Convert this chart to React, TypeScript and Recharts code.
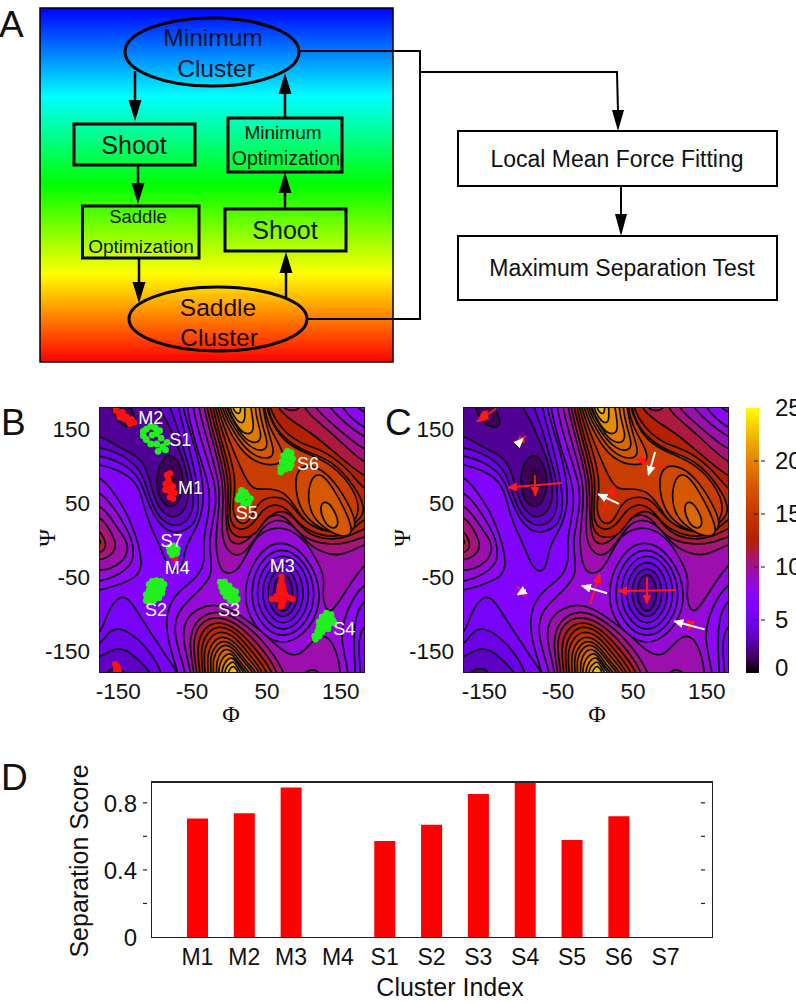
import React from 'react';
import {
  Bar, BarChart, Curve, Scatter, ScatterChart, XAxis, YAxis,
} from 'recharts';

type Pt = [number, number];
type Contour = { level: number; pts: Pt[] };

const FONT = '"Liberation Sans", Arial, sans-serif';

// panel D
const clusterNames = ['M1', 'M2', 'M3', 'M4', 'S1', 'S2', 'S3', 'S4', 'S5', 'S6', 'S7'];
const separationScores = [0.706, 0.738, 0.891, 0, 0.573, 0.669, 0.853, 0.93, 0.579, 0.72, 0];
const scoreTicks = [0, 0.2, 0.4, 0.6, 0.8];

// panels B and C axis ticks
const angleTicks = [-150, -50, 50, 150];
const colorbarTicks = [0, 5, 10, 15, 20, 25];

// free energy contours, (phi, psi) in degrees.
// levels above the plateau, painted lowest first
const raisedContours: Contour[] = [
  { level: 7, pts: [[-200,88],[-180,88],[-160,65],[-142,36],[-130,6],[-124,-18],[-122,-36],[-130,-52],[-153,-60],[-180,-69],[-200,-69]] },
  { level: 8, pts: [[-200,67],[-180,67],[-162,47],[-146,22],[-135,0],[-133,-18],[-135,-32],[-153,-48],[-180,-57],[-200,-57]] },
  { level: 9, pts: [[-200,49],[-180,49],[-166,33],[-153,13],[-143,0],[-140,-14],[-148,-30],[-166,-40],[-180,-41],[-200,-41]] },
  { level: 10, pts: [[-200,33],[-180,33],[-169,20],[-158,0],[-157,-12],[-166,-23],[-180,-28],[-200,-28]] },
  { level: 11, pts: [[-200,13],[-180,13],[-175,6],[-170,-5],[-173,-14],[-180,-18],[-200,-18]] },
  { level: 12, pts: [[-200,4],[-180,4],[-177,-3],[-180,-9],[-200,-9]] },
  { level: 7, pts: [[-62,200],[-62,180],[-47,121],[-31,76],[-29,45],[-40,0],[-36,-27],[-45,-50],[-72,-68],[-90,-95],[-88,-136],[-72,-180],[-72,-200],[167,-200],[167,-180],[163,-108],[180,-77],[200,-77],[200,171],[181,171],[167,180],[167,200]] },
  { level: 8, pts: [[-54,200],[-54,180],[-38,121],[-22,76],[-21,45],[-32,0],[-28,-27],[-27,-50],[-49,-73],[-76,-97],[-79,-131],[-62,-180],[-62,-200],[158,-200],[158,-180],[147,-135],[151,-108],[163,-79],[181,-57],[200,-57],[200,148],[181,148],[145,180],[145,200]] },
  { level: 9, pts: [[-46,200],[-46,180],[-31,126],[-17,79],[-17,45],[-23,0],[-19,-32],[-11,-47],[7,-43],[17,-25],[30,0],[41,11],[64,19],[86,10],[100,-3],[111,-21],[127,-50],[121,-77],[131,-105],[149,-77],[181,-27],[200,-27],[200,135],[181,135],[127,180],[127,200]] },
  { level: 9, pts: [[-55,-200],[-55,-180],[-67,-136],[-65,-109],[-45,-91],[-18,-86],[9,-100],[45,-127],[68,-151],[91,-160],[109,-135],[127,-126],[142,-149],[147,-180],[147,-200]] },
  { level: 10, pts: [[-39,200],[-39,180],[-24,126],[-12,79],[-12,45],[-15,0],[-2,-20],[14,-22],[30,0],[45,22],[64,29],[84,20],[102,-5],[122,-17],[145,-22],[167,-12],[181,-5],[200,-5],[200,119],[180,119],[136,157],[109,180],[109,200]] },
  { level: 10, pts: [[-51,-200],[-51,-180],[-59,-140],[-51,-109],[-24,-94],[5,-104],[41,-133],[73,-180],[73,-200]] },
  { level: 11, pts: [[-35,200],[-35,180],[-20,126],[-8,79],[-9,45],[-7,10],[-2,-3],[9,-7],[25,2],[41,25],[59,37],[77,28],[95,2],[131,-7],[158,-4],[181,6],[200,6],[200,101],[180,101],[136,144],[109,166],[96,180],[96,200]] },
  { level: 11, pts: [[-47,-200],[-47,-180],[-54,-142],[-46,-113],[-22,-102],[5,-111],[36,-140],[64,-180],[64,-200]] },
  { level: 12, pts: [[-31,200],[-31,180],[-15,126],[-4,79],[-6,45],[-6,22],[0,6],[18,2],[34,9],[45,29],[66,42],[82,33],[100,9],[127,0],[158,3],[181,18],[200,18],[200,83],[180,83],[136,121],[109,144],[82,160],[59,180],[59,200]] },
  { level: 12, pts: [[-43,-200],[-43,-180],[-48,-145],[-40,-120],[-20,-109],[5,-118],[32,-147],[57,-180],[57,-200]] },
  { level: 13, pts: [[-27,200],[-27,180],[-12,126],[0,85],[-3,45],[-3,24],[9,12],[27,18],[41,42],[59,50],[77,41],[91,20],[118,6],[145,4],[163,13],[180,31],[200,31],[200,65],[180,65],[163,90],[127,121],[91,130],[64,153],[50,180],[50,200]] },
  { level: 13, pts: [[-39,-200],[-39,-180],[-43,-149],[-35,-126],[-18,-115],[5,-124],[27,-151],[50,-180],[50,-200]] },
  { level: 14, pts: [[-24,200],[-24,180],[-6,126],[5,85],[3,58],[0,40],[9,20],[23,24],[30,40],[41,57],[64,59],[79,51],[95,27],[122,11],[149,11],[176,29],[180,45],[167,72],[136,108],[100,119],[73,135],[55,157],[48,180],[48,200]] },
  { level: 14, pts: [[-36,-200],[-36,-180],[-39,-151],[-30,-131],[-15,-122],[5,-131],[24,-156],[44,-180],[44,-200]] },
  { level: 15, pts: [[-21,200],[-21,180],[-2,130],[14,92],[27,67],[45,70],[70,67],[86,45],[100,22],[127,12],[158,15],[174,36],[167,67],[136,103],[100,117],[70,133],[55,157],[46,180],[46,200]] },
  { level: 15, pts: [[-32,-200],[-32,-180],[-34,-156],[-26,-137],[-13,-129],[5,-138],[21,-160],[40,-180],[40,-200]] },
  { level: 16, pts: [[-18,200],[-18,180],[0,139],[23,108],[55,99],[73,108],[64,130],[50,153],[43,180],[43,200]] },
  { level: 16, pts: [[86,97],[109,103],[136,85],[163,40],[170,15],[149,6],[118,15],[95,36],[86,63]] },
  { level: 16, pts: [[-28,-200],[-28,-180],[-30,-158],[-22,-142],[-11,-135],[5,-144],[18,-164],[35,-180],[35,-200]] },
  { level: 17, pts: [[-15,200],[-15,180],[3,144],[23,117],[48,108],[59,117],[50,142],[41,180],[41,200]] },
  { level: 17, pts: [[102,63],[109,88],[122,90],[138,69],[158,31],[165,6],[145,4],[122,18],[106,36]] },
  { level: 17, pts: [[-25,-200],[-25,-180],[-26,-160],[-19,-147],[-9,-140],[5,-149],[16,-166],[31,-180],[31,-200]] },
  { level: 18, pts: [[-12,200],[-12,180],[5,148],[23,126],[41,119],[50,128],[42,151],[36,180],[36,200]] },
  { level: 18, pts: [[118,47],[127,54],[138,42],[146,20],[136,14],[124,24]] },
  { level: 18, pts: [[-21,-200],[-21,-180],[-21,-164],[-15,-151],[-6,-146],[5,-155],[14,-170],[26,-180],[26,-200]] },
  { level: 19, pts: [[-9,200],[-9,180],[5,155],[18,135],[34,130],[41,139],[34,162],[31,180],[31,200]] },
  { level: 19, pts: [[-18,-200],[-18,-180],[-17,-167],[-11,-157],[-3,-152],[5,-160],[12,-172],[22,-180],[22,-200]] },
  { level: 20, pts: [[-7,200],[-7,180],[3,160],[14,144],[27,143],[30,155],[25,180],[25,200]] },
  { level: 20, pts: [[-14,-200],[-14,-180],[-12,-170],[-7,-162],[0,-158],[6,-165],[11,-174],[18,-180],[18,-200]] },
  { level: 21, pts: [[-4,200],[-4,180],[4,164],[13,157],[18,162],[17,180],[17,200]] },
  { level: 21, pts: [[-10,-200],[-10,-180],[-8,-172],[-3,-167],[2,-164],[6,-170],[9,-176],[13,-180],[13,-200]] },
  { level: 22, pts: [[0,200],[0,180],[5,172],[11,170],[12,180],[12,200]] },
  { level: 22, pts: [[-6,-200],[-6,-180],[-2,-173],[2,-170],[6,-175],[9,-180],[9,-200]] },
];

// levels below the plateau and the holes in the ridges, painted outermost first
const sunkenContours: Contour[] = [
  { level: 6, pts: [[-200,103],[-180,103],[-153,94],[-135,83],[-124,67],[-117,36],[-106,9],[-97,-9],[-88,-34],[-76,-45],[-67,-36],[-64,-14],[-58,0],[-45,22],[-38,49],[-40,85],[-49,121],[-60,157],[-67,180],[-67,200],[-200,200]] },
  { level: 5, pts: [[-200,115],[-180,115],[-153,106],[-135,94],[-124,81],[-115,54],[-103,27],[-88,12],[-72,9],[-51,20],[-45,40],[-46,72],[-56,117],[-67,157],[-73,180],[-73,200],[-200,200]] },
  { level: 4, pts: [[-200,126],[-180,126],[-157,119],[-135,106],[-121,90],[-112,58],[-101,33],[-85,20],[-72,19],[-56,29],[-51,54],[-54,85],[-65,121],[-75,157],[-85,180],[-85,200],[-200,200]] },
  { level: 3, pts: [[-200,142],[-180,142],[-157,128],[-135,117],[-119,106],[-110,76],[-103,49],[-88,31],[-74,31],[-62,42],[-57,69],[-64,106],[-79,139],[-88,162],[-101,180],[-101,200],[-200,200]] },
  { level: 2, pts: [[-164,200],[-164,180],[-157,164],[-144,152],[-131,153],[-129,164],[-139,180],[-139,200]] },
  { level: 2, pts: [[-84,120],[-70,103],[-65,79],[-70,52],[-84,42],[-98,54],[-103,79],[-99,103]] },
  { level: 6, pts: [[-200,-131],[-178,-131],[-169,-97],[-153,-75],[-139,-79],[-124,-104],[-106,-131],[-83,-167],[-72,-180],[-72,-200],[-200,-200]] },
  { level: 5, pts: [[-200,-145],[-180,-145],[-166,-122],[-153,-119],[-135,-127],[-112,-149],[-94,-180],[-94,-200],[-200,-200]] },
  { level: 4, pts: [[-200,-160],[-180,-160],[-162,-147],[-144,-147],[-126,-163],[-108,-180],[-108,-200],[-200,-200]] },
  { level: 3, pts: [[-173,-200],[-173,-180],[-157,-171],[-142,-180],[-142,-200]] },
  { level: 6, pts: [[200,-113],[180,-113],[170,-131],[174,-180],[174,-200],[200,-200]] },
  { level: 11, pts: [[66,200],[66,180],[82,173],[95,180],[95,200]] },
  { level: 9, pts: [[95,-200],[95,-180],[109,-174],[121,-180],[121,-200]] },
  { level: 8, pts: [[65,4],[104,-22],[123,-72],[110,-118],[69,-148],[28,-118],[13,-74],[30,-22]] },
  { level: 7, pts: [[67,-7],[100,-28],[115,-72],[103,-112],[69,-137],[35,-112],[23,-72],[36,-28]] },
  { level: 6, pts: [[69,-16],[96,-34],[107,-72],[97,-106],[69,-128],[41,-106],[31,-72],[42,-34]] },
  { level: 5, pts: [[69,-26],[90,-40],[99,-72],[91,-100],[69,-118],[47,-100],[39,-72],[48,-40]] },
  { level: 4, pts: [[69,-36],[84,-46],[91,-72],[85,-94],[69,-108],[53,-94],[47,-72],[53,-46]] },
  { level: 3, pts: [[69,-45],[79,-52],[83,-72],[79,-90],[69,-99],[59,-90],[55,-72],[59,-52]] },
];

// the black core of M1 has no line around it
const coreShades: Contour[] = [
  { level: 1.2, pts: [[-84,106],[-74,94],[-72,72],[-78,56],[-88,56],[-94,72],[-93,92]] },
  { level: 0.4, pts: [[-84,92],[-78,84],[-78,68],[-84,62],[-90,70],[-89,84]] },
];

// clusters of panel B
const minimumPoints: Pt[] = [
  [-157,175],[-153,172],[-149,169],[-152,166],[-146,164],[-143,167],[-140,161],[-136,163],[-133,159],[-138,157],[-148,173],[-157,178],
  [-88,88],[-84,90],[-86,82],[-90,76],[-84,76],[-80,72],[-90,68],[-84,66],[-78,64],[-84,58],[-80,56],[-87,72],
  [67,-50],[67,-56],[65,-62],[69,-62],[64,-68],[70,-68],[60,-76],[66,-74],[72,-74],[54,-80],[60,-80],[78,-78],[82,-80],[66,-82],[70,-82],[68,-88],[66,-90],
  [-79,-24],[-77,-26],
  [-156,-170],[-154,-174],[-157,-176],[-153,-179],[-156,-180],[-158,-168],[-156,180],
];
const saddlePoints: Pt[] = [
  [-120,141],[-116,150],[-110,154],[-104,152],[-116,136],[-108,142],[-102,144],[-96,138],[-110,130],[-102,130],[-94,126],[-90,122],[-100,120],[-88,132],[-120,147],[-98,148],
  [75,120],[80,118],[70,114],[76,112],[82,110],[68,106],[74,104],[80,102],[66,98],[72,96],[78,98],[66,92],
  [13,67],[10,60],[8,55],[14,54],[20,60],[25,56],[22,50],[16,48],[12,62],[18,64],
  [-85,-10],[-80,-8],[-84,-16],[-78,-14],[-74,-12],[-81,-20],[-75,-18],
  [-108,-56],[-102,-55],[-96,-56],[-92,-60],[-112,-60],[-106,-62],[-100,-62],[-94,-66],[-112,-68],[-106,-70],[-100,-70],[-95,-72],[-116,-74],[-110,-76],[-104,-76],[-99,-78],[-116,-82],[-110,-84],[-106,-82],
  [-16,-57],[-10,-57],[-14,-64],[-8,-63],[-4,-62],[-12,-70],[-6,-70],[0,-68],[5,-70],[-8,-76],[-2,-76],[4,-76],[7,-80],[-2,-82],[4,-84],
  [128,-99],[134,-101],[122,-104],[128,-106],[136,-108],[118,-111],[124,-112],[131,-114],[138,-112],[118,-118],[124,-118],[130,-120],[116,-124],[122,-124],[112,-130],[118,-130],[113,-134],
];
const clusterLabels: { name: string; at: Pt }[] = [
  { name: 'M2', at: [-110,165] }, { name: 'S1', at: [-70,135] }, { name: 'M1', at: [-56,70] },
  { name: 'S6', at: [103,103] }, { name: 'S5', at: [20,36] }, { name: 'S7', at: [-82,-2] },
  { name: 'M4', at: [-74,-38] }, { name: 'M3', at: [68,-35] }, { name: 'S2', at: [-103,-95] },
  { name: 'S3', at: [-4,-95] }, { name: 'S4', at: [152,-120] },
];

// force arrows of panel C, tail then head
const redArrows: [Pt, Pt][] = [
  [[-135,178],[-161,160]], [[-153,175],[-146,163]], [[-95,141],[-108,129]],
  [[-46,77],[-119,71]], [[-83,88],[-82,60]], [[94,98],[55,110]],
  [[9,38],[25,73]], [[-107,-63],[-95,-76]], [[-8,-87],[5,-46]],
  [[108,-68],[30,-69]], [[69,-51],[69,-86]], [[128,-113],[126,-121]],
];
const whiteArrows: [Pt, Pt][] = [
  [[-103,133],[-99,137]], [[80,119],[71,88]], [[31,49],[3,62]],
  [[-95,-67],[-106,-74]], [[15,-72],[-19,-62]], [[147,-121],[106,-110]],
];

// gnuplot palette 7,5,15 on 0..25
function energyColor(level: number): string {
  const t = Math.max(0, Math.min(1, level / 25));
  const r = Math.sqrt(t);
  const g = t * t * t;
  const b = Math.max(0, Math.sin(2 * Math.PI * t));
  return `rgb(${Math.round(r * 255)},${Math.round(g * 255)},${Math.round(b * 255)})`;
}

const noMark = () => <g />;
const toRows = (pts: Pt[]) => pts.map(([x, y]) => ({ x, y }));

function contourSeries(list: Contour[], fillOffset: number, stroked: boolean, prefix: string) {
  return list.map((c, i) => {
    const fill = energyColor(c.level + fillOffset);
    return (
      <Scatter
        key={prefix + i}
        data={toRows(c.pts)}
        isAnimationActive={false}
        shape={noMark}
        line={(p: any) => (
          <Curve
            points={p.points}
            type="basisClosed"
            fill={fill}
            stroke={stroked ? '#0c0c0c' : 'none'}
            strokeWidth={1.7}
          />
        )}
      />
    );
  });
}

function arrowSeries(list: [Pt, Pt][], color: string, marker: string) {
  return list.map((a, i) => (
    <Scatter
      key={marker + i}
      data={toRows(a)}
      isAnimationActive={false}
      shape={noMark}
      line={{ stroke: color, strokeWidth: 2, markerEnd: `url(#${marker})` }}
    />
  ));
}

function EnergyMap({ left, labelShift, children }: { left: number; labelShift: number; children?: React.ReactNode }) {
  const size = 266;
  const top = 407;
  return (
    <div style={{ position: 'absolute', left: 0, top: 0, pointerEvents: 'none' }}>
      <ScatterChart
        width={796}
        height={1004}
        margin={{ left: left - 60, top, right: 796 - left - size, bottom: 1004 - top - size - 40 }}
      >
        <XAxis
          type="number"
          dataKey="x"
          domain={[-180, 180]}
          allowDataOverflow
          ticks={angleTicks}
          height={40}
          axisLine={false}
          tickLine={false}
          tick={(p: any) => (
            <text x={p.x + (p.payload.value < 0 ? -3 : -2) + labelShift} y={p.y + 18} textAnchor="middle" fontFamily={FONT} fontSize={22.5} fill="#111">
              {p.payload.value}
            </text>
          )}
        />
        <YAxis
          type="number"
          dataKey="y"
          domain={[-180, 180]}
          allowDataOverflow
          ticks={angleTicks}
          width={60}
          axisLine={false}
          tickLine={false}
          tick={(p: any) => (
            <text x={p.x - 1} y={p.y + 8} textAnchor="end" fontFamily={FONT} fontSize={22.5} fill="#111">
              {p.payload.value}
            </text>
          )}
        />
        <Scatter
          data={toRows([[-220,220],[220,220],[220,-220],[-220,-220]])}
          isAnimationActive={false}
          shape={noMark}
          line={(p: any) => <Curve points={p.points} type="linearClosed" fill={energyColor(6.5)} stroke="none" />}
        />
        {contourSeries(raisedContours, 0.5, true, 'up')}
        {contourSeries(sunkenContours, -0.5, true, 'down')}
        {contourSeries(coreShades, 0, false, 'core')}
        {children}
      </ScatterChart>
      <div style={{ position: 'absolute', left, top, width: size - 2, height: size - 2, border: '1px solid #1a1a1a' }} />
    </div>
  );
}

function FlowDiagram() {
  const arrow = (x: number, y1: number, y2: number, key: string) => {
    const dir = y2 > y1 ? 1 : -1;
    return (
      <g key={key}>
        <line x1={x} y1={y1} x2={x} y2={y2 - dir * 20} stroke="#000" strokeWidth={2.5} />
        <polygon points={`${x - 6.5},${y2 - dir * 21} ${x + 6.5},${y2 - dir * 21} ${x},${y2}`} fill="#000" />
      </g>
    );
  };
  const box = (x: number, y: number, w: number, h: number) => (
    <rect x={x} y={y} width={w} height={h} fill="none" stroke="#000" strokeWidth={3} />
  );
  const label = (s: string, x: number, y: number, size: number, fill = '#06122a') => (
    <text x={x} y={y} textAnchor="middle" fontFamily={FONT} fontSize={size} fill={fill}>{s}</text>
  );
  return (
    <svg width={796} height={1004} style={{ position: 'absolute', left: 0, top: 0 }}>
      <defs>
        <linearGradient id="rainbow" x1="0" y1="0" x2="0" y2="1">
          <stop offset="0" stopColor="#0000ff" />
          <stop offset="0.25" stopColor="#00ffff" />
          <stop offset="0.5" stopColor="#00ff00" />
          <stop offset="0.75" stopColor="#ffff00" />
          <stop offset="1" stopColor="#ff0000" />
        </linearGradient>
        <linearGradient id="colorbarFill" x1="0" y1="1" x2="0" y2="0">
          {[0, 0.05, 0.1, 0.15, 0.2, 0.25, 0.3, 0.35, 0.4, 0.45, 0.5, 0.55, 0.6, 0.65, 0.7, 0.75, 0.8, 0.85, 0.9, 0.95, 1].map((t) => (
            <stop key={t} offset={t} stopColor={energyColor(t * 25)} />
          ))}
        </linearGradient>
        <marker id="headRed" markerUnits="userSpaceOnUse" markerWidth="11" markerHeight="9" refX="9" refY="4.5" orient="auto">
          <path d="M0,0 L10,4.5 L0,9 Z" fill="#ff1a1a" />
        </marker>
        <marker id="headWhite" markerUnits="userSpaceOnUse" markerWidth="11" markerHeight="9" refX="9" refY="4.5" orient="auto">
          <path d="M0,0 L10,4.5 L0,9 Z" fill="#ffffff" />
        </marker>
      </defs>

      <rect x={40} y={8} width={353} height={354} fill="url(#rainbow)" stroke="#000" strokeWidth={1.5} />

      <ellipse cx={212} cy={52} rx={87} ry={34} fill="none" stroke="#000" strokeWidth={3} />
      <ellipse cx={218} cy={319} rx={89} ry={32} fill="none" stroke="#000" strokeWidth={3} />
      {box(74, 124, 121, 41)}
      {box(82.5, 206, 116.5, 52)}
      {box(228, 118, 114, 54)}
      {box(225, 209, 121, 42)}

      {arrow(135, 71, 121, 'a1')}
      {arrow(138, 166, 204, 'a2')}
      {arrow(139, 259, 303, 'a3')}
      {arrow(286, 297, 252, 'a4')}
      {arrow(285, 208, 172, 'a5')}
      {arrow(285, 117, 73, 'a6')}

      {label('Minimum', 213, 46, 24.5)}
      {label('Cluster', 216, 77, 24.5)}
      {label('Shoot', 134, 154, 25, '#05160a')}
      {label('Saddle', 138, 223, 18.5, '#05160a')}
      {label('Optimization', 141, 253, 19, '#05160a')}
      {label('Minimum', 283, 139, 19, '#05160a')}
      {label('Optimization', 286, 165, 19.5, '#05160a')}
      {label('Shoot', 285, 239, 25, '#05160a')}
      {label('Saddle', 218, 316, 24.5, '#1a0800')}
      {label('Cluster', 219, 346, 24.5, '#1a0800')}

      <polyline points="299,51 420,51 420,319 307,319" fill="none" stroke="#000" strokeWidth={2} />
      <polyline points="420,72 617,72 618,112" fill="none" stroke="#000" strokeWidth={2} />
      <polygon points="612,110 624,110 618,131" fill="#000" />
      <line x1={621} y1={186} x2={621} y2={216} stroke="#000" strokeWidth={2} />
      <polygon points="615,214 627,214 621,236" fill="#000" />

      <rect x={458} y={131} width={319} height={55} fill="#fff" stroke="#000" strokeWidth={2} />
      <rect x={458} y={236} width={319} height={64} fill="#fff" stroke="#000" strokeWidth={2} />
      <text x={617} y={167} textAnchor="middle" fontFamily={FONT} fontSize={23} fill="#111">Local Mean Force Fitting</text>
      <text x={622} y={276} textAnchor="middle" fontFamily={FONT} fontSize={23} fill="#111">Maximum Separation Test</text>

      <text x={-1} y={37} fontFamily={FONT} fontSize={37} fill="#111">A</text>
      <text x={1} y={435} fontFamily={FONT} fontSize={37} fill="#111">B</text>
      <text x={385} y={435} fontFamily={FONT} fontSize={37} fill="#111">C</text>
      <text x={1} y={790} fontFamily={FONT} fontSize={37} fill="#111">D</text>

      <text x={231} y={722} textAnchor="middle" fontFamily='"Liberation Serif", serif' fontSize={24} fill="#111">Φ</text>
      <text x={597} y={722} textAnchor="middle" fontFamily='"Liberation Serif", serif' fontSize={24} fill="#111">Φ</text>
      <text transform="translate(55,538) rotate(-90)" textAnchor="middle" fontFamily='"Liberation Serif", serif' fontSize={24} fill="#111">Ψ</text>
      <text transform="translate(410,538) rotate(-90)" textAnchor="middle" fontFamily='"Liberation Serif", serif' fontSize={24} fill="#111">Ψ</text>
    </svg>
  );
}

function Colorbar() {
  return (
    <div style={{ position: 'absolute', left: 0, top: 0, pointerEvents: 'none' }}>
      <BarChart
        width={796}
        height={1004}
        data={[{ name: 'energy', value: 25 }]}
        barCategoryGap={0}
        margin={{ left: 746, top: 408, right: 0, bottom: 1004 - 673 }}
      >
        <XAxis dataKey="name" hide />
        <YAxis
          orientation="right"
          width={37}
          type="number"
          domain={[0, 25]}
          ticks={colorbarTicks}
          axisLine={false}
          tickLine={false}
          tick={(p: any) => (
            <g>
              {p.payload.value > 0 && p.payload.value < 25 ? (
                <line x1={p.x - 13} x2={p.x} y1={p.y} y2={p.y} stroke="#111" strokeWidth={1} strokeDasharray="4 3" />
              ) : null}
              <text x={p.x + 8} y={p.y + (p.payload.value === 0 ? 3 : 8)} fontFamily={FONT} fontSize={24} fill="#111">
                {p.payload.value}
              </text>
            </g>
          )}
        />
        <Bar dataKey="value" fill="url(#colorbarFill)" isAnimationActive={false} />
      </BarChart>
    </div>
  );
}

function ScoreChart() {
  const data = clusterNames.map((name, i) => ({ name, score: separationScores[i] }));
  return (
    <div style={{ position: 'absolute', left: 0, top: 0, pointerEvents: 'none' }}>
      <BarChart
        width={796}
        height={1004}
        data={data}
        margin={{ left: 151 - 60, top: 781, right: 796 - 713, bottom: 0 }}
      >
        <XAxis
          dataKey="name"
          height={67}
          interval={0}
          padding={{ left: 23, right: 24 }}
          axisLine={false}
          tickLine={false}
          tick={(p: any) => (
            <text x={p.x} y={p.y + 20} textAnchor="middle" fontFamily={FONT} fontSize={23} fill="#111">
              {p.payload.value}
            </text>
          )}
        />
        <YAxis
          width={60}
          type="number"
          domain={[0, 0.93]}
          allowDataOverflow
          ticks={scoreTicks}
          axisLine={false}
          tickLine={false}
          tick={(p: any) => (
            <g>
              {p.payload.value > 0 ? <line x1={p.x} x2={p.x + 4} y1={p.y} y2={p.y} stroke="#222" strokeWidth={1.2} /> : null}
              {p.payload.value > 0 ? <line x1={p.x + 558} x2={p.x + 562} y1={p.y} y2={p.y} stroke="#222" strokeWidth={1.2} /> : null}
              {[0, 0.4, 0.8].includes(p.payload.value) ? (
                <text x={p.x - 6} y={p.y + 9} textAnchor="end" fontFamily={FONT} fontSize={24} fill="#111">
                  {p.payload.value}
                </text>
              ) : null}
            </g>
          )}
        />
        <Bar dataKey="score" fill="#ff0000" barSize={21} isAnimationActive={false} />
      </BarChart>
      <div style={{ position: 'absolute', left: 151, top: 781, width: 560, height: 154, border: '1.5px solid #222', borderTopWidth: 2 }} />
      <svg width={796} height={1004} style={{ position: 'absolute', left: 0, top: 0 }}>
        <text x={450} y={996} textAnchor="middle" fontFamily={FONT} fontSize={25} fill="#111">Cluster Index</text>
        <text transform="translate(88,861) rotate(-90)" textAnchor="middle" fontFamily={FONT} fontSize={25} fill="#111">Separation Score</text>
      </svg>
    </div>
  );
}

export default function App() {
  return (
    <div style={{ position: 'absolute', left: 0, top: 0, width: 796, height: 1004, overflow: 'hidden', background: '#fff' }}>
      <FlowDiagram />
      <EnergyMap left={99} labelShift={0}>
        <Scatter
          data={toRows(minimumPoints)}
          isAnimationActive={false}
          shape={(p: any) => <circle cx={p.cx} cy={p.cy} r={3.2} fill="#ff1010" />}
        />
        <Scatter
          data={toRows(saddlePoints)}
          isAnimationActive={false}
          shape={(p: any) => <circle cx={p.cx} cy={p.cy} r={3.4} fill="#22f01e" />}
        />
        <Scatter
          data={clusterLabels.map((l) => ({ x: l.at[0], y: l.at[1], name: l.name }))}
          isAnimationActive={false}
          shape={(p: any) => (
            <text x={p.cx} y={p.cy + 6} textAnchor="middle" fontFamily={FONT} fontSize={18} fill="#fff">
              {p.payload?.name ?? p.name}
            </text>
          )}
        />
      </EnergyMap>
      <EnergyMap left={463} labelShift={2}>
        {arrowSeries(redArrows, '#ff1a1a', 'headRed')}
        {arrowSeries(whiteArrows, '#ffffff', 'headWhite')}
      </EnergyMap>
      <Colorbar />
      <ScoreChart />
    </div>
  );
}
